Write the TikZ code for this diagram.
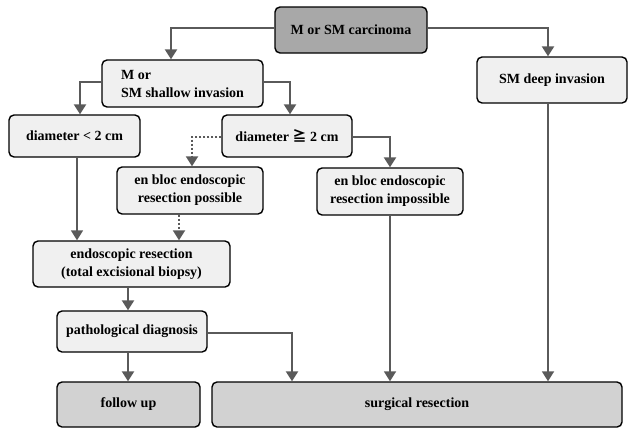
\documentclass[tikz,border=0pt]{standalone}
\usepackage{fontspec}
\setmainfont{Liberation Serif}
\newfontfamily\cjk{Noto Sans CJK JP}
\usetikzlibrary{arrows.meta}
\definecolor{arrgray}{HTML}{5A5A5A}
\definecolor{darkfill}{HTML}{A8A8A8}
\definecolor{midfill}{HTML}{D2D2D2}
\definecolor{lightfill}{HTML}{F0F0F0}
\begin{document}
\begin{tikzpicture}[x=1pt,y=-1pt,
  box/.style={draw=black,line width=1.4pt,rounded corners=5pt,fill=lightfill,
    font=\fontsize{14}{18}\selectfont\bfseries,align=center,inner sep=2pt},
  arr/.style={draw=arrgray,line width=2.3pt,-{Triangle[width=12pt,length=10pt]}},
  thinarr/.style={arr,line width=1.8pt},
  dotarr/.style={arr,line width=2pt,dotted}]
\useasboundingbox (0,0) rectangle (634,437);
\node[box,fill=darkfill,minimum width=152pt,minimum height=46pt] (top) at (351,30) {M or SM carcinoma};
\node[box,align=left,minimum width=161pt,minimum height=47pt] (shallow) at (182.5,83.5) {M or\\SM shallow invasion};
\node[box,minimum width=150pt,minimum height=46pt] (deep) at (552,80) {SM deep invasion};
\node[box,minimum width=131pt,minimum height=42pt] (dlt) at (74.5,136) {diameter < 2 cm};
\node[box,minimum width=130pt,minimum height=42pt] (dge) at (287,136) {diameter {\cjk\bfseries ≧} 2 cm};
\node[box,minimum width=146pt,minimum height=47pt] (poss) at (190,190.5) {en bloc endoscopic\\resection possible};
\node[box,minimum width=146pt,minimum height=47pt] (imposs) at (390,191.5) {en bloc endoscopic\\resection impossible};
\node[box,minimum width=197pt,minimum height=46pt] (endo) at (131.5,264) {endoscopic resection\\(total excisional biopsy)};
\node[box,minimum width=150pt,minimum height=41pt] (path) at (132,331.5) {pathological diagnosis};
\node[box,fill=midfill,minimum width=143pt,minimum height=45pt] (follow) at (128.5,404.5) {follow up};
\node[box,fill=midfill,minimum width=410pt,minimum height=45pt] (surg) at (417,404.5) {surgical resection};

\draw[arr] ([yshift=2pt]top.west) -| ([xshift=-11.5pt]shallow.north);
\draw[arr] ([yshift=2pt]top.east) -| ([xshift=-4pt]deep.north);
\draw[arr] ([yshift=1.5pt]shallow.west) -| ([xshift=5.5pt]dlt.north);
\draw[arr] ([yshift=1.5pt]shallow.east) -| ([xshift=3pt]dge.north);
\draw[dotarr] ([yshift=-1pt]dge.west) -| ([xshift=2pt]poss.north);
\draw[arr] ([yshift=-1pt]dge.east) -| (imposs.north);
\draw[thinarr] ([xshift=2.5pt]dlt.south) -- ([xshift=2.5pt]dlt.south |- endo.north);
\draw[dotarr] ([xshift=-11pt]poss.south) -- ([xshift=-11pt]poss.south |- endo.north);
\draw[thinarr] (imposs.south) -- (imposs.south |- surg.north);
\draw[thinarr] ([xshift=-4pt]deep.south) -- ([xshift=-4pt]deep.south |- surg.north);
\draw[arr] ([xshift=-3.5pt]endo.south) -- ([xshift=-3.5pt]endo.south |- path.north);
\draw[arr] ([yshift=-1.5pt]path.east) -| (292,0 |- surg.north);
\draw[arr] ([xshift=-4pt]path.south) -- ([xshift=-4pt]path.south |- follow.north);
\end{tikzpicture}
\end{document}
